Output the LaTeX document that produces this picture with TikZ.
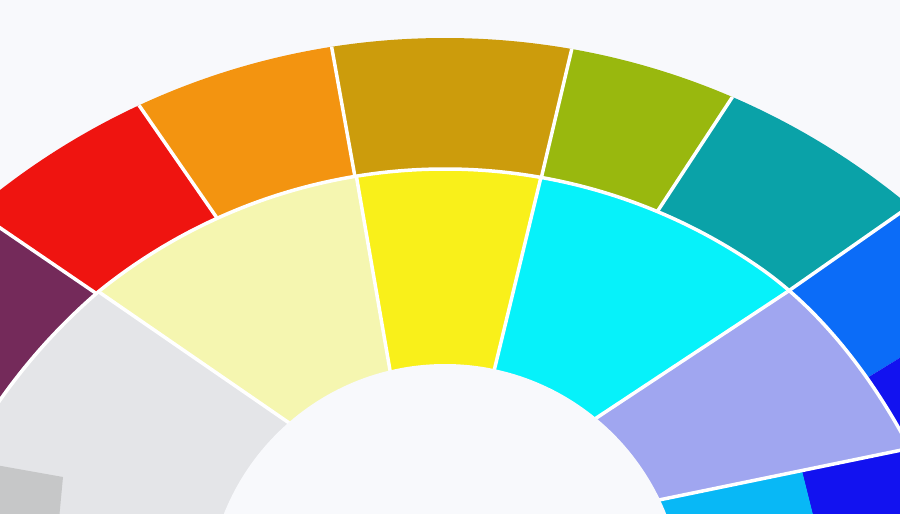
\documentclass[tikz,border=0pt]{standalone}
\definecolor{bg}{HTML}{F8F9FC}
\definecolor{cred}{HTML}{EF1410}
\definecolor{corange}{HTML}{F39410}
\definecolor{cgold}{HTML}{CC9C0C}
\definecolor{cgreen}{HTML}{99B80E}
\definecolor{cteal}{HTML}{0AA2A8}
\definecolor{cpurple}{HTML}{742A5A}
\definecolor{cpale}{HTML}{F5F6B0}
\definecolor{cyellow}{HTML}{F9F01A}
\definecolor{ccyan}{HTML}{06F2FA}
\definecolor{clav}{HTML}{A0A6F0}
\definecolor{cblue}{HTML}{0B6CF8}
\definecolor{cdblue}{HTML}{1212F0}
\definecolor{clblue}{HTML}{08B8F6}
\definecolor{clgray}{HTML}{E4E5E8}
\definecolor{cdgray}{HTML}{C6C7C8}
\begin{document}
\begin{tikzpicture}[x=1pt,y=-1pt,
  divider/.style={draw=white,line width=3.5pt},
  midcurve/.style={domain=-12:908,samples=240,variable=\t}]
\useasboundingbox (0,0) rectangle (900,514);
\fill[bg] (0,0) rectangle (900,514);
\begin{scope}
\clip (0,0) rectangle (900,514);
\clip (445,765) circle (727);
% outer ring
\fill[cpurple] (-60,186) -- (97,294) -- (150,400) -- (-60,440) -- cycle;
\fill[cred] (97,294) -- (-60,186) -- (-60,0) -- (98,46) -- (217,218) -- cycle;
\fill[corange] (217,218) -- (98,46) -- (325,10) -- (355,177) -- cycle;
\fill[cgold] (355,177) -- (325,10) -- (581,10) -- (541,179) -- cycle;
\fill[cgreen] (541,179) -- (581,10) -- (758,58) -- (657,212) -- cycle;
\fill[cteal] (657,212) -- (758,58) -- (960,60) -- (960,171) -- (787,292) -- cycle;
\fill[cblue] (787,292) -- (960,171) -- (960,321) -- (867,378) -- (800,400) -- cycle;
\fill[cdblue] (867,378) -- (960,321) -- (960,530) -- (800,530) -- (800,400) -- cycle;
% inner ring
\begin{scope}
\clip plot[midcurve] ({\t},{720-551*sqrt(1-((\t-445)/551)^2)+21*(max(0,(\t-760)/140))^2+5*max(0,(100-\t)/100)}) -- (908,530) -- (-12,530) -- cycle;
\fill[clgray] (-79,170) -- (285,420) -- (445,600) -- (-79,600) -- cycle;
\fill[cpale] (-79,170) -- (350,142) -- (390,370) -- (445,600) -- (285,420) -- cycle;
\fill[cyellow] (350,142) -- (549,145) -- (495,368) -- (445,600) -- (390,370) -- cycle;
\fill[ccyan] (549,145) -- (844,254) -- (598,417) -- (445,600) -- (495,368) -- cycle;
\fill[clav] (844,254) -- (960,254) -- (960,438) -- (657,500) -- (445,600) -- (598,417) -- cycle;
\fill[clblue] (657,500) -- (802,470) -- (817,530) -- (445,600) -- cycle;
\fill[cdblue] (802,470) -- (960,438) -- (960,530) -- (817,530) -- cycle;
\fill[cdgray] (-10,464) -- (63,477) -- (58,530) -- (-10,530) -- cycle;
\end{scope}
% dividers
\draw[divider] (-10,221) -- (97,294);
\draw[divider] (98,46) -- (217,218);
\draw[divider] (325,10) -- (355,177);
\draw[divider] (581,10) -- (541,179);
\draw[divider] (758,58) -- (657,212);
\draw[divider] (960,171) -- (787,292);
\draw[divider] (99,292) -- (340,458);
\draw[divider] (356.5,177) -- (396,405);
\draw[divider] (541,177) -- (487,400);
\draw[divider] (787,292) -- (560,442);
\draw[divider] (960,438) -- (620,508);
\draw[divider] plot[midcurve] ({\t},{720-551*sqrt(1-((\t-445)/551)^2)+21*(max(0,(\t-760)/140))^2+5*max(0,(100-\t)/100)});
% inner hole
\fill[bg] (445,602) circle (238);
\end{scope}
\end{tikzpicture}
\end{document}
